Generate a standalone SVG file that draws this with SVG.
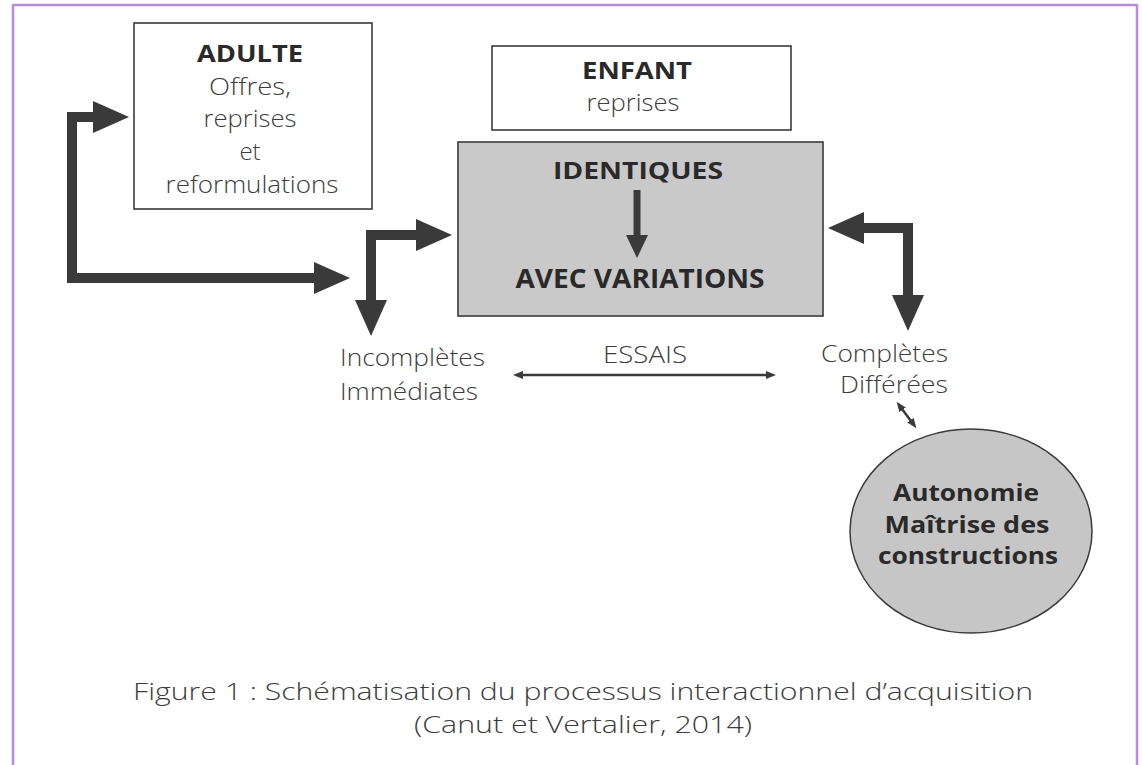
<svg xmlns="http://www.w3.org/2000/svg" width="1142" height="765" viewBox="0 0 1142 765">
<style>
.frame{fill:#ffffff;stroke:#b68ae6;stroke-width:2.5}
.box{fill:#ffffff;stroke:#3a3a3a;stroke-width:1.6}
.gbox{fill:#c9c9c9;stroke:#3a3a3a;stroke-width:1.6}
.bold{font-family:"Open Sans","DejaVu Sans",sans-serif;font-weight:700;fill:#2a2a2a;text-anchor:middle}
.reg{font-family:"Open Sans","DejaVu Sans",sans-serif;font-weight:300;fill:#3c3c3c;font-size:24px}
.thick{fill:none;stroke:#3a3a3a;stroke-width:10;stroke-linejoin:miter}
.thin{fill:none;stroke:#3a3a3a;stroke-width:2.5}
</style>
<defs>
<marker id="bigHead" markerUnits="userSpaceOnUse" markerWidth="36" markerHeight="32" viewBox="0 0 36 32" refX="2" refY="16" orient="auto-start-reverse">
<path d="M0,0 L36,16 L0,32 z" fill="#3a3a3a"/>
</marker>
<marker id="smallHead" markerUnits="userSpaceOnUse" markerWidth="10" markerHeight="8" viewBox="0 0 10 8" refX="1" refY="4" orient="auto-start-reverse">
<path d="M0,0 L10,4 L0,8 z" fill="#3a3a3a"/>
</marker>
</defs>
<rect class="frame" x="13" y="5" width="1124" height="800"/>

<g id="adulte">
<rect class="box" x="134" y="23" width="238" height="186"/>
<text class="bold" x="250" y="62" font-size="24" textLength="106" lengthAdjust="spacingAndGlyphs">ADULTE</text>
<text class="reg" x="250" y="95" text-anchor="middle" textLength="82" lengthAdjust="spacingAndGlyphs">Offres,</text>
<text class="reg" x="250" y="127" text-anchor="middle" textLength="93" lengthAdjust="spacingAndGlyphs">reprises</text>
<text class="reg" x="250" y="160" text-anchor="middle">et</text>
<text class="reg" x="252" y="193" text-anchor="middle" textLength="173" lengthAdjust="spacingAndGlyphs">reformulations</text>
</g>

<g id="enfant">
<rect class="box" x="492" y="46" width="299" height="84"/>
<text class="bold" x="637" y="79" font-size="24" textLength="110" lengthAdjust="spacingAndGlyphs">ENFANT</text>
<text class="reg" x="633" y="111" text-anchor="middle" textLength="93" lengthAdjust="spacingAndGlyphs">reprises</text>
</g>

<g id="reprises-types">
<rect class="gbox" x="458" y="142" width="365" height="174"/>
<text class="bold" x="638" y="179" font-size="24" textLength="170" lengthAdjust="spacingAndGlyphs">IDENTIQUES</text>
<path d="M637,190 V238" stroke="#3a3a3a" stroke-width="7" fill="none"/>
<polygon points="626,235 648,235 637,258" fill="#3a3a3a"/>
<text class="bold" x="640" y="288" font-size="27" textLength="249" lengthAdjust="spacingAndGlyphs">AVEC VARIATIONS</text>
</g>

<g id="incompletes">
<text class="reg" x="340" y="366" textLength="145" lengthAdjust="spacingAndGlyphs">Incomplètes</text>
<text class="reg" x="340" y="400" textLength="138" lengthAdjust="spacingAndGlyphs">Immédiates</text>
</g>

<g id="essais">
<text class="reg" x="645" y="363" text-anchor="middle" textLength="84" lengthAdjust="spacingAndGlyphs">ESSAIS</text>
</g>

<g id="completes">
<text class="reg" x="948" y="362" text-anchor="end" textLength="127" lengthAdjust="spacingAndGlyphs">Complètes</text>
<text class="reg" x="948" y="393" text-anchor="end" textLength="108" lengthAdjust="spacingAndGlyphs">Différées</text>
</g>

<g id="autonomie">
<ellipse cx="971" cy="531" rx="121" ry="102" fill="#c6c6c6" stroke="#3a3a3a" stroke-width="1.5"/>
<text class="bold" x="966" y="501" font-size="24" textLength="146" lengthAdjust="spacingAndGlyphs">Autonomie</text>
<text class="bold" x="967" y="533" font-size="24" textLength="165" lengthAdjust="spacingAndGlyphs">Maîtrise des</text>
<text class="bold" x="968" y="564" font-size="24" textLength="180" lengthAdjust="spacingAndGlyphs">constructions</text>
</g>

<g id="connectors">
<path class="thick" d="M95,117 H72 V278 H316" marker-start="url(#bigHead)" marker-end="url(#bigHead)"/>
<path class="thick" d="M418,235 H371 V302" marker-start="url(#bigHead)" marker-end="url(#bigHead)"/>
<path class="thick" d="M862,228 H908 V297" marker-start="url(#bigHead)" marker-end="url(#bigHead)"/>
<path class="thin" d="M522,375 H767" marker-start="url(#smallHead)" marker-end="url(#smallHead)"/>
<path class="thin" d="M902,409 L911,421" marker-start="url(#smallHead)" marker-end="url(#smallHead)"/>
</g>

<g id="caption">
<text class="reg" x="583" y="700" text-anchor="middle" font-size="26" textLength="900" lengthAdjust="spacingAndGlyphs">Figure 1 : Schématisation du processus interactionnel d’acquisition</text>
<text class="reg" x="583" y="733" text-anchor="middle" font-size="26" textLength="338" lengthAdjust="spacingAndGlyphs">(Canut et Vertalier, 2014)</text>
</g>
</svg>
